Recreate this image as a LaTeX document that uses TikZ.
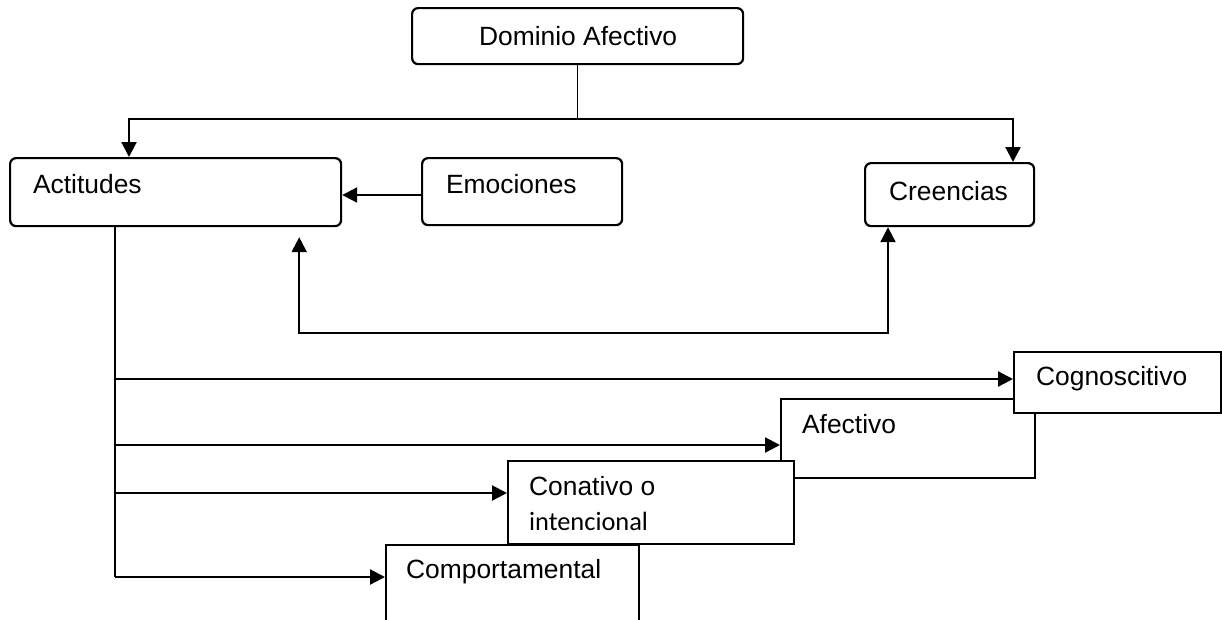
\documentclass[tikz,border=0pt]{standalone}
\usepackage{fontspec}
\setmainfont{Liberation Sans}
\newfontfamily\calib{Carlito}
\usetikzlibrary{arrows.meta}
\begin{document}
\begin{tikzpicture}[x=1pt,y=-1pt,
  line width=2.2pt,
  box/.style={draw=black,fill=white,line width=2.2pt,inner sep=0pt,anchor=north west},
  rbox/.style={box,rounded corners=6pt},
  lbl/.style={anchor=base west,inner sep=0pt,font=\fontsize{26.4}{31}\selectfont},
  arr/.style={-{Triangle[length=15pt,width=15pt]}},
  arrb/.style={{Triangle[length=15pt,width=15pt]}-{Triangle[length=15pt,width=15pt]}}]
\useasboundingbox (0,0) rectangle (1222,619);
% boxes
\node[rbox,minimum width=331,minimum height=56] (dom) at (411,7) {};
\node[lbl] (domt) at (478,45) {Dominio Afectivo};
\node[rbox,minimum width=331,minimum height=68] (act) at (9,157) {};
\node[lbl] (actt) at (32,193) {Actitudes};
\node[rbox,minimum width=200,minimum height=67] (emo) at (421,157) {};
\node[lbl] (emot) at (445,193) {Emociones};
\node[rbox,minimum width=169,minimum height=63] (cre) at (864,162) {};
\node[lbl] (cret) at (888,200) {Creencias};
% overlapping component boxes
\node[box,minimum width=254,minimum height=79] (afe) at (780,398) {};
\node[lbl] (afet) at (801,433) {Afectivo};
\node[box,minimum width=207,minimum height=61] (cog) at (1013,351) {};
\node[lbl] (cogt) at (1035,385) {Cognoscitivo};
\node[box,minimum width=286,minimum height=83] (con) at (507,460) {};
\node[lbl] (cont) at (528,495) {Conativo o};
\node[lbl,font=\calib\fontsize{26.4}{31}\selectfont] (cont2) at (528,530) {intencional};
\node[box,minimum width=253,minimum height=100] (com) at (385,544) {};
\node[lbl] (comt) at (405,578) {Comportamental};
% connectors
\coordinate (j) at (dom.south |- 0,119);
\draw[line width=1.5pt] (dom.south) -- (j);
\draw[arr] (j) -| ([xshift=120]act.north west);
\draw[arr] (j) -| ([xshift=149]cre.north west);
\draw[arr] ([yshift=-38]emo.north west) -- ([yshift=-38]act.north east);
\coordinate (fa) at ([xshift=-43,yshift=-10]act.south east);
\coordinate (fc) at ([xshift=24]cre.south west);
\coordinate (fb) at (fa |- 0,333);
\draw[arrb] (fa) -- (fb) -| (fc);
\coordinate (b0) at ([xshift=106]act.south west);
\coordinate (b4) at (b0 |- 0,577);
\draw (b0) -- (b4);
\draw[arr] (b0 |- 0,379) -- (cog.west |- 0,379);
\draw[arr] (b0 |- 0,445) -- (afe.west |- 0,445);
\draw[arr] (b0 |- 0,493) -- (con.west |- 0,493);
\draw[arr] (b4) -- (com.west |- b4);
\end{tikzpicture}
\end{document}
